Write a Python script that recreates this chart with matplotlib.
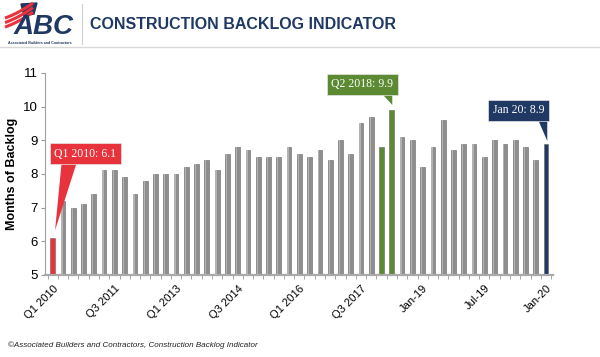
import matplotlib.pyplot as plt
import matplotlib.transforms as mtransforms
import numpy as np
from matplotlib.lines import Line2D
from matplotlib.patches import Polygon

# Backlog values, Q1 2010 .. Q4 2018 quarterly, then monthly Jan-19 .. Jan-20
backlog = [6.1, 7.2, 7.0, 7.1, 7.4, 8.1, 8.1, 7.9, 7.4, 7.8,
           8.0, 8.0, 8.0, 8.2, 8.3, 8.4, 8.1, 8.6, 8.8, 8.7,
           8.5, 8.5, 8.5, 8.8, 8.6, 8.5, 8.7, 8.4, 9.0, 8.6,
           9.5, 9.7, 8.8, 9.9, 9.1, 9.0, 8.2, 8.8, 9.6, 8.7,
           8.9, 8.9, 8.5, 9.0, 8.9, 9.0, 8.8, 8.4, 8.9]
tick_labels = ['Q1 2010', 'Q3 2011', 'Q1 2013', 'Q3 2014', 'Q1 2016',
               'Q3 2017', 'Jan-19', 'Jul-19', 'Jan-20']
tick_pos = [0, 6, 12, 18, 24, 30, 36, 42, 48]

NAVY = '#1f3864'
RED = '#e8333c'
GREEN = '#5b8a32'

x = np.arange(len(backlog))
colors = ['#8e8e8e'] * len(backlog)
colors[0] = RED
colors[32] = GREEN
colors[33] = GREEN
colors[-1] = NAVY

fig = plt.figure(figsize=(6, 3.57), dpi=100)
plt.rcParams['font.family'] = ['Liberation Sans', 'DejaVu Sans']

ax = fig.add_axes([0.075, 0.23, 0.847, 0.566])
ax.bar(x, np.array(backlog) - 5, bottom=5, width=0.46, color=colors,
       edgecolor='#666666', linewidth=0.4, zorder=2)
# light streak on the grey bars for the cylinder look
grey = [i for i in x if colors[i] == '#8e8e8e']
ax.bar(np.array(grey) - 0.1, np.array(backlog)[grey] - 5, bottom=5, width=0.12,
       color='#b3b3b3', linewidth=0, zorder=3)

ax.set_ylim(5, 11)
ax.set_xlim(-0.75, 48.7)
ax.set_yticks(range(5, 12))
ax.set_xticks(tick_pos)
ax.set_xticklabels(tick_labels, rotation=45, ha='right', rotation_mode='anchor',
                   fontsize=8)
ax.set_xticks(np.arange(-0.5, 49, 1), minor=True)
ax.tick_params(axis='x', which='major', length=0, pad=6)
ax.tick_params(axis='x', which='minor', length=3, color='#9a9a9a')
ax.tick_params(axis='y', length=3, color='#9a9a9a', labelsize=9.5, pad=2)
ax.set_ylabel('Months of Backlog', fontsize=9, fontweight='bold', labelpad=4)
for s in ['top', 'right']:
    ax.spines[s].set_visible(False)
ax.spines['left'].set_color('#a0a0a0')
ax.spines['bottom'].set_color('#a9a9a9')
ax.spines['bottom'].set_linewidth(1.6)


# callouts: box offset and pointer triangle given in points from the bar top
def callout(i, txt, col, box, tri):
    ax.annotate(txt, xy=(i, backlog[i]), xytext=box,
                textcoords='offset points', ha='center', va='center',
                family=['Liberation Serif', 'DejaVu Serif'], fontsize=8.5,
                color='white', zorder=7,
                bbox=dict(boxstyle='square,pad=0.4', fc=col, ec='#e6e6e6', lw=0.5))
    tr = mtransforms.Affine2D().scale(fig.dpi / 72) + \
        mtransforms.ScaledTranslation(i, backlog[i], ax.transData)
    ax.add_patch(Polygon(tri, closed=True, fc=col, ec='none', transform=tr,
                         zorder=6, clip_on=False))


callout(0, 'Q1 2010: 6.1', RED, (23.6, 60.6),
        [(1.7, 5.5), (6.7, 57), (18.2, 57)])
callout(33, 'Q2 2018: 9.9', GREEN, (-21.3, 18.4),
        [(0.3, 3.6), (-8.4, 13), (0.3, 13)])
callout(48, 'Jan 20: 8.9', NAVY, (-19.9, 23.8),
        [(0.9, 1.9), (-6.3, 18.5), (0.9, 18.5)])

# header
fig.text(0.15, 0.93, 'CONSTRUCTION BACKLOG INDICATOR', fontsize=11.5,
         fontweight='bold', color=NAVY, va='center')
fig.add_artist(Line2D([0.137, 0.137], [0.877, 0.99], color='#cfcfcf', lw=0.8))
fig.add_artist(Line2D([0, 1], [0.868, 0.868], color='#d9d9d9', lw=1.0))

# logo
lg = fig.add_axes([0, 0.868, 0.13, 0.132])
lg.set_xlim(0, 78)
lg.set_ylim(47, 0)
lg.axis('off')
t = np.linspace(0, 1, 30)
for k in range(3):
    xs = 5 + 28 * t
    ys = 27 - 4.5 * k - 15 * t + 5 * t * (1 - t)
    lg.plot(xs, ys, color=RED, lw=2.2, solid_capstyle='butt')
lg.fill([21, 37, 34, 24], [4, 3, 14, 16], color=NAVY)
lg.text(44, 27, 'ABC', fontsize=20, fontweight='bold', fontstyle='italic',
        color=NAVY, ha='center', va='center')
lg.text(40, 43, 'Associated Builders and Contractors', fontsize=2.6,
        fontweight='bold', color=NAVY, ha='center', va='center')

fig.text(0.013, 0.033, '\u00a9Associated Builders and Contractors, Construction Backlog Indicator',
         fontsize=5.8, fontstyle='italic', color='#222222', va='center')

fig.savefig('out.png', dpi=100)
